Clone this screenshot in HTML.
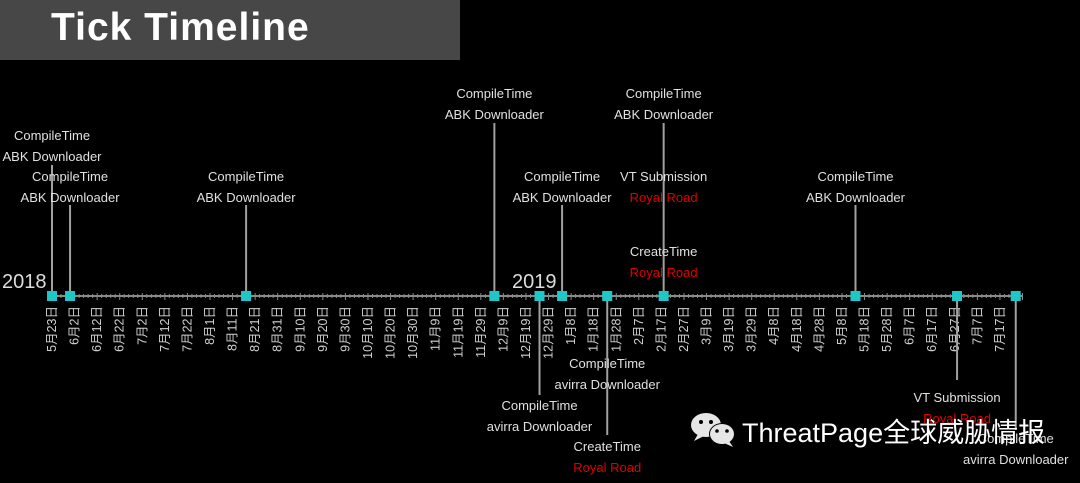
<!DOCTYPE html>
<html><head><meta charset="utf-8"><style>
html,body{margin:0;padding:0;background:#000;}
body{width:1080px;height:483px;overflow:hidden;position:relative;font-family:"Liberation Sans","Noto Sans CJK JP",sans-serif;}
</style></head><body>
<svg id="chart" width="1080" height="483" xmlns="http://www.w3.org/2000/svg" style="position:absolute;left:0;top:0">
<rect x="0" y="0" width="460" height="60" fill="#474747"/>
<text x="51" y="40" fill="#fff" font-size="39" font-weight="bold" letter-spacing="1" font-family="Liberation Sans, sans-serif">Tick Timeline</text>
<text x="2" y="288" fill="#ddd" font-size="20">2018</text>
<text x="512" y="288" fill="#ddd" font-size="20">2019</text>
<g id="axis"></g>
<g id="marks"></g>
<g>
<ellipse cx="706" cy="425" rx="15" ry="12" fill="#e6e6e6"/>
<polygon points="698,434 694,441 704,436" fill="#e6e6e6"/>
<circle cx="701" cy="422" r="2" fill="#000"/><circle cx="711" cy="422" r="2" fill="#000"/>
<ellipse cx="722" cy="434" rx="13" ry="11" fill="#000"/>
<ellipse cx="722" cy="434" rx="12" ry="10" fill="#e6e6e6"/>
<polygon points="729,441 733,447 724,443" fill="#e6e6e6"/>
<circle cx="717" cy="431" r="1.8" fill="#000"/><circle cx="727" cy="431" r="1.8" fill="#000"/>
<text x="742" y="442" fill="#fff" font-size="27" font-family="Liberation Sans, Noto Sans CJK SC, sans-serif">ThreatPage全球威胁情报</text>
</g>
</svg>
<script>
// axis: day offset from 2018-05-23
const tickLabels = ["5月23日","6月2日","6月12日","6月22日","7月2日","7月12日","7月22日","8月1日","8月11日","8月21日","8月31日","9月10日","9月20日","9月30日","10月10日","10月20日","10月30日","11月9日","11月19日","11月29日","12月9日","12月19日","12月29日","1月8日","1月18日","1月28日","2月7日","2月17日","2月27日","3月9日","3月19日","3月29日","4月8日","4月18日","4月28日","5月8日","5月18日","5月28日","6月7日","6月17日","6月27日","7月7日","7月17日"];
const eventDays = [0, 8, 86, 196, 216, 226, 246, 271, 356, 401, 427];
const eventLineEnds = [165, 205, 205, 123, 395, 205, 435, 123, 205, 380, 430];
const annotations = [
 {e:0, y:135, a:"CompileTime", b:"ABK Downloader", red:false},
 {e:1, y:176, a:"CompileTime", b:"ABK Downloader", red:false},
 {e:2, y:176, a:"CompileTime", b:"ABK Downloader", red:false},
 {e:3, y:93, a:"CompileTime", b:"ABK Downloader", red:false},
 {e:4, y:405, a:"CompileTime", b:"avirra Downloader", red:false},
 {e:5, y:176, a:"CompileTime", b:"ABK Downloader", red:false},
 {e:6, y:363, a:"CompileTime", b:"avirra Downloader", red:false},
 {e:6, y:446, a:"CreateTime", b:"Royal Road", red:true},
 {e:7, y:93, a:"CompileTime", b:"ABK Downloader", red:false},
 {e:7, y:176, a:"VT Submission", b:"Royal Road", red:true},
 {e:7, y:251, a:"CreateTime", b:"Royal Road", red:true},
 {e:8, y:176, a:"CompileTime", b:"ABK Downloader", red:false},
 {e:9, y:397, a:"VT Submission", b:"Royal Road", red:true},
 {e:10, y:438, a:"CompileTime", b:"avirra Downloader", red:false}
];
const NS="http://www.w3.org/2000/svg";
const X0=52, PX_PER_DAY=2.257, AXIS_Y=296;
function xScale(d){return X0+d*PX_PER_DAY;}
function mk(tag,attrs,parent){const el=document.createElementNS(NS,tag);for(const k in attrs)el.setAttribute(k,attrs[k]);parent.appendChild(el);return el;}
const axis=document.getElementById('axis'), marks=document.getElementById('marks');
const al=mk('line',{x1:48,x2:1022,y1:AXIS_Y,y2:AXIS_Y,stroke:'#8a8a8a','stroke-width':2},axis);


for(let d=0;d<=430;d+=2){
  const x=xScale(d); const major=d%10===0;
  const t=mk('line',{x1:x,x2:x,y1:AXIS_Y-(major?3:2),y2:AXIS_Y+(major?4:2),stroke:'#8a8a8a','stroke-width':1},axis);
  
  
}
tickLabels.forEach((lab,i)=>{
  const x=xScale(i*10)+4;
  const t=mk('text',{x:0,y:0,transform:`translate(${x},306) rotate(-90)`,'text-anchor':'end',fill:'#d0d0d0','font-size':12.5,'font-family':'Liberation Sans, Noto Sans CJK JP, sans-serif'},axis);
  t.textContent=lab;
  
  
});
eventDays.forEach((d,i)=>{
  const x=xScale(d);
  const l=mk('line',{x1:x,x2:x,y1:AXIS_Y,y2:eventLineEnds[i],stroke:'#a0a0a0','stroke-width':2},marks);
  
  
});
annotations.forEach(an=>{
  const x=xScale(eventDays[an.e]);
  const t1=mk('text',{x:x,y:an.y+5,'text-anchor':'middle',fill:'#e0e0e0','font-size':13},marks);
  t1.textContent=an.a;
  
  
  const t2=mk('text',{x:x,y:an.y+26,'text-anchor':'middle',fill:an.red?'#e00000':'#e0e0e0','font-size':13},marks);
  t2.textContent=an.b;
  
  
});
eventDays.forEach(d=>{
  const x=xScale(d);
  const r=mk('rect',{x:x-5,y:AXIS_Y-5,width:10,height:10,fill:'#1ec8c8'},marks);
  
  
});
</script>
</body></html>
